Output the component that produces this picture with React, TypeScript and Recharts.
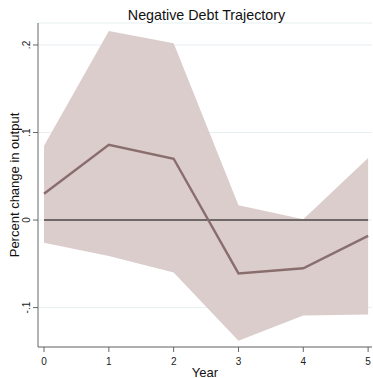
import React from "react";
import {
  ComposedChart,
  Area,
  Line,
  XAxis,
  YAxis,
  CartesianGrid,
  Label,
} from "recharts";

// Impulse response: point estimate with confidence band, by year after the shock
const years = [0, 1, 2, 3, 4, 5];
const estimate = [0.03, 0.086, 0.07, -0.061, -0.055, -0.018];
const upperBound = [0.085, 0.216, 0.202, 0.017, 0.001, 0.071];
const lowerBound = [-0.026, -0.041, -0.06, -0.138, -0.109, -0.108];
const yTicks = [-0.1, 0, 0.1, 0.2];
const yTickLabels = ["-.1", "0", ".1", ".2"];

const data = years.map((year, i) => ({
  year,
  est: estimate[i],
  band: [lowerBound[i], upperBound[i]],
  zero: 0,
}));

const FONT = "'Liberation Sans', Arial, Helvetica, sans-serif";

const YTick = (props: any) => {
  const { x, y, payload } = props;
  const idx = yTicks.indexOf(payload.value);
  const cx = x - 4;
  return (
    <text
      x={cx}
      y={y}
      transform={`rotate(-90 ${cx} ${y})`}
      textAnchor="middle"
      dominantBaseline="central"
      fontSize={10}
      fontFamily={FONT}
      fill="#222"
    >
      {idx >= 0 ? yTickLabels[idx] : payload.value}
    </text>
  );
};

const XTick = (props: any) => {
  const { x, y, payload } = props;
  return (
    <text
      x={x}
      y={y + 7}
      textAnchor="middle"
      dominantBaseline="central"
      fontSize={10}
      fontFamily={FONT}
      fill="#222"
    >
      {payload.value}
    </text>
  );
};

export default function App() {
  return (
    <div style={{ position: "absolute", left: 0, top: 0, width: 373, height: 378, background: "#fff" }}>
      <div
        style={{
          position: "absolute",
          left: 0,
          top: 6,
          width: 413,
          textAlign: "center",
          fontFamily: FONT,
          fontSize: 14.3,
          color: "#111",
          lineHeight: "18px",
          pointerEvents: "none",
          zIndex: 2,
        }}
      >
        Negative Debt Trajectory
      </div>
      <ComposedChart
        width={373}
        height={378}
        data={data}
        margin={{ top: 23, right: 1, bottom: 0, left: 0 }}
      >
        <CartesianGrid horizontal vertical={false} stroke="#e6eff1" strokeWidth={1} />
        <XAxis
          dataKey="year"
          type="number"
          domain={[-0.093, 5.06]}
          ticks={years}
          height={31}
          tickSize={5}
          tickLine={{ stroke: "#666" }}
          axisLine={{ stroke: "#666" }}
          tick={<XTick />}
          interval={0}
          allowDataOverflow
        >
          <Label
            content={() => (
              <text
                x={205}
                y={372}
                textAnchor="middle"
                dominantBaseline="central"
                fontSize={13}
                fontFamily={FONT}
                fill="#111"
              >
                Year
              </text>
            )}
          />
        </XAxis>
        <YAxis
          type="number"
          domain={[-0.145, 0.2251]}
          ticks={yTicks}
          width={38}
          tickSize={5}
          tickLine={{ stroke: "#666" }}
          axisLine={{ stroke: "#666" }}
          tick={<YTick />}
          interval={0}
          allowDataOverflow
        >
          <Label
            content={() => (
              <text
                x={14}
                y={185}
                transform="rotate(-90 14 185)"
                textAnchor="middle"
                dominantBaseline="central"
                fontSize={13}
                fontFamily={FONT}
                fill="#111"
              >
                Percent change in output
              </text>
            )}
          />
        </YAxis>
        <Area
          dataKey="band"
          type="linear"
          stroke="none"
          fill="#dccdcd"
          fillOpacity={1}
          isAnimationActive={false}
          dot={false}
          activeDot={false}
        />
        <Line
          dataKey="zero"
          type="linear"
          stroke="#4d4646"
          strokeWidth={1.6}
          dot={false}
          activeDot={false}
          isAnimationActive={false}
        />
        <Line
          dataKey="est"
          type="linear"
          stroke="#8a6e6e"
          strokeWidth={2.4}
          dot={false}
          activeDot={false}
          isAnimationActive={false}
        />
      </ComposedChart>
    </div>
  );
}
